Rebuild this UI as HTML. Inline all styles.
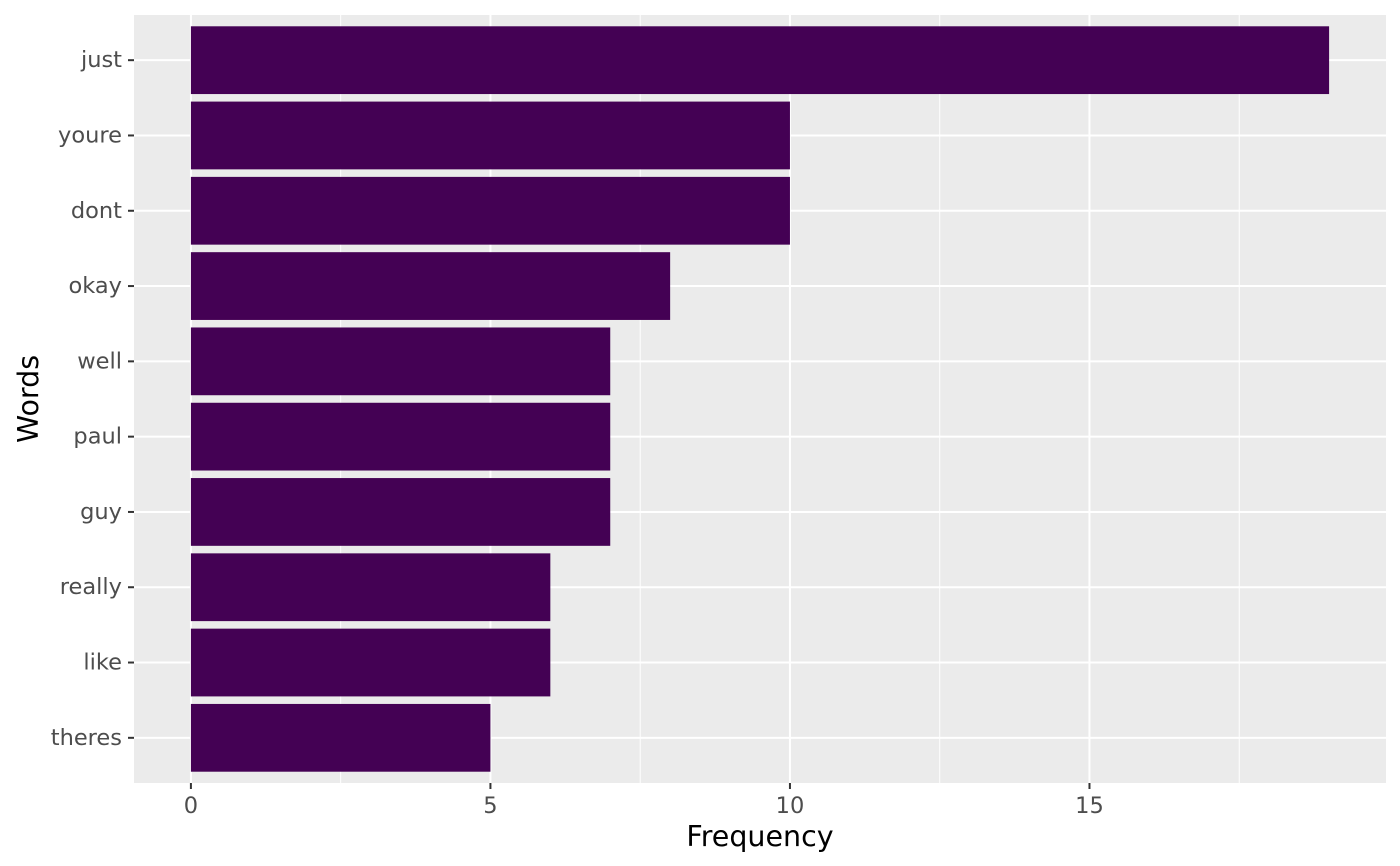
<!DOCTYPE html>
<html><head><meta charset="utf-8"><style>
html,body{margin:0;padding:0;background:#fff;}
svg{display:block;font-family:"DejaVu Sans","Liberation Sans",sans-serif;}
</style></head><body>
<svg id="chart" width="1400" height="866"></svg>
<script>
const categories = ["just","youre","dont","okay","well","paul","guy","really","like","theres"];
const values = [19,10,10,8,7,7,7,6,6,5];
const xTicks = [0,5,10,15];
const xMinor = [2.5,7.5,12.5,17.5];

const NS="http://www.w3.org/2000/svg";
const svg=document.getElementById("chart");
const pl=134, pr=1386, pt=15, pb=783;
const xmin=-0.95, xmax=19.95;
const xs=v=>pl+(v-xmin)/(xmax-xmin)*(pr-pl);
const n=categories.length;
const band=(pb-pt)/(n+0.2);
const ys=i=>pt+band*(0.6+i);
function mk(t,a,parent){const e=document.createElementNS(NS,t);for(const k in a)e.setAttribute(k,a[k]);(parent||svg).appendChild(e);return e;}

const panel=mk("rect",{x:pl,y:pt,width:pr-pl,height:pb-pt,fill:"#ebebeb"});



xMinor.forEach(v=>{const l=mk("line",{x1:xs(v),x2:xs(v),y1:pt,y2:pb,stroke:"#fff","stroke-width":1});

});
xTicks.forEach(v=>{const l=mk("line",{x1:xs(v),x2:xs(v),y1:pt,y2:pb,stroke:"#fff","stroke-width":2});

});
categories.forEach((c,i)=>{const l=mk("line",{x1:pl,x2:pr,y1:ys(i),y2:ys(i),stroke:"#fff","stroke-width":2});

});

categories.forEach((c,i)=>{
 const h=band*0.9;
 const r=mk("rect",{x:xs(0),y:ys(i)-h/2,width:xs(values[i])-xs(0),height:h,fill:"#440154"});
 
 
 const tk=mk("line",{x1:pl-6,x2:pl,y1:ys(i),y2:ys(i),stroke:"#333","stroke-width":2});
 
 
 const t=mk("text",{x:pl-12,y:ys(i)+7,"text-anchor":"end","font-size":"22.5","fill":"#4d4d4d"});
 t.textContent=c;
 
 
});
xTicks.forEach(v=>{
 const tk=mk("line",{x1:xs(v),x2:xs(v),y1:pb,y2:pb+6,stroke:"#333","stroke-width":2});
 
 
 const t=mk("text",{x:xs(v),y:pb+30,"text-anchor":"middle","font-size":"22.5","fill":"#4d4d4d"});
 t.textContent=v;
 
 
});
const xt=mk("text",{x:(pl+pr)/2,y:846,"text-anchor":"middle","font-size":"28.5","fill":"#000"});
xt.textContent="Frequency";


const yt=mk("text",{x:0,y:0,transform:"translate(38,"+((pt+pb)/2)+") rotate(-90)","text-anchor":"middle","font-size":"28.5","fill":"#000"});
yt.textContent="Words";


</script>
</body></html>
